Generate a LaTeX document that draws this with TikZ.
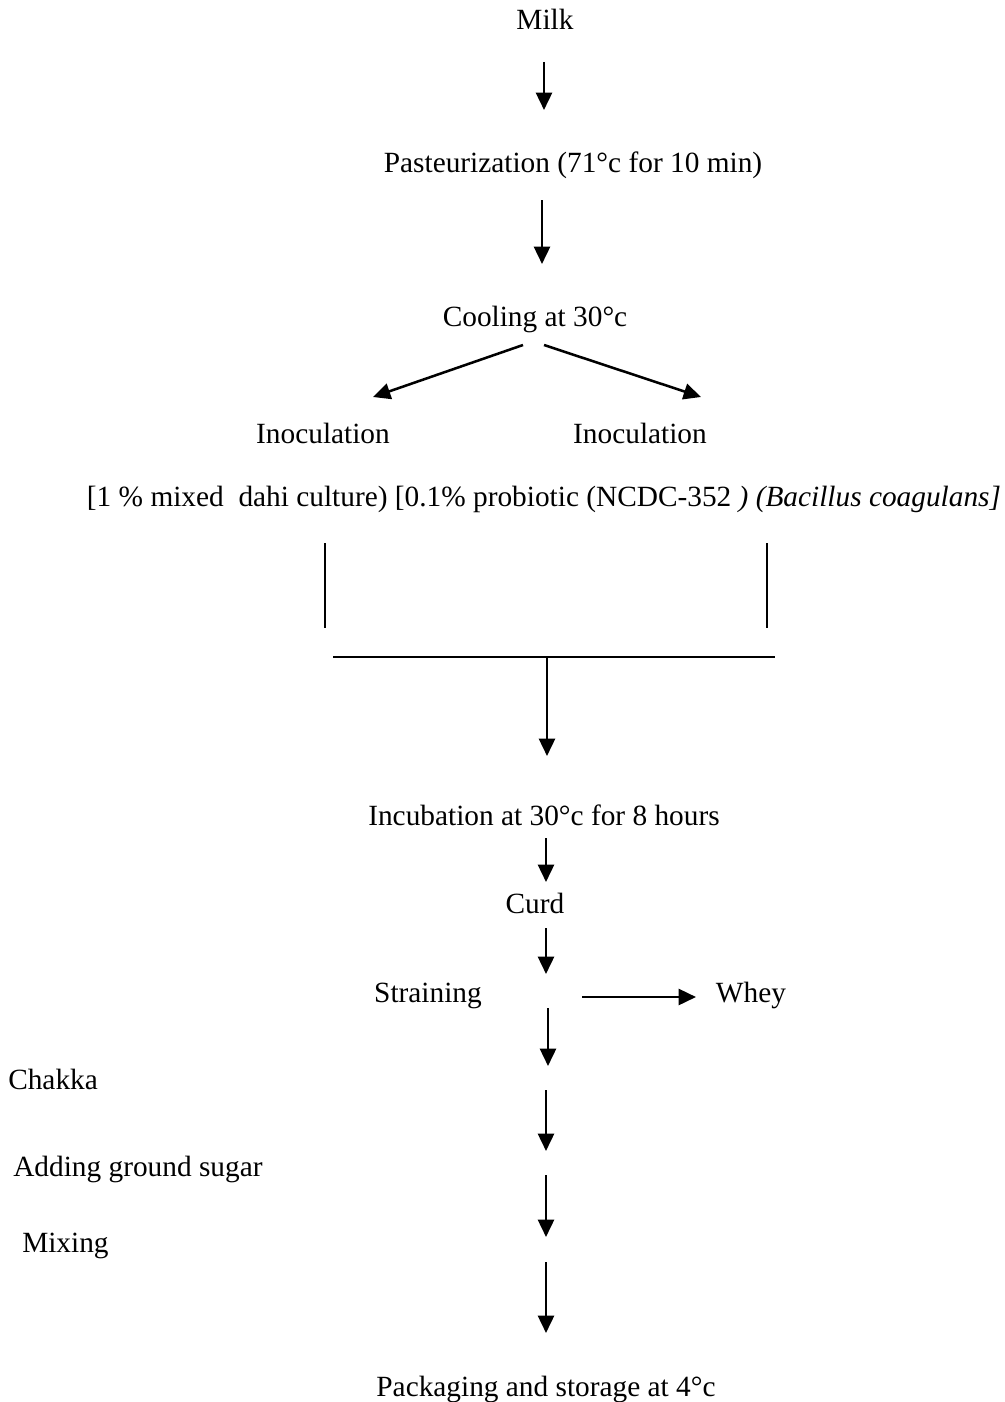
\documentclass[tikz,border=0pt]{standalone}
\usepackage{fontspec}
\setmainfont{Liberation Serif}
\usetikzlibrary{arrows.meta}
\begin{document}
\begin{tikzpicture}[x=0.75pt,y=-0.75pt,
  lbl/.style={inner sep=0pt,anchor=base,font=\fontsize{22}{26}\selectfont},
  lbll/.style={lbl,anchor=base west},
  flow/.style={line width=1.9pt,-{Triangle[width=12pt,length=13pt]}},
  rule/.style={line width=1.9pt}]
\useasboundingbox (0,0) rectangle (1005,1402);
% text nodes
\node[lbl] (milk) at (545,30) {Milk};
\node[lbl] (past) at (573,172) {Pasteurization (71°c for 10 min)};
\node[lbl] (cool) at (535,326) {Cooling at 30°c};
\node[lbl] (inocL) at (323,443) {Inoculation};
\node[lbl] (inocR) at (640,443) {Inoculation};
\node[lbl] (cult) at (544,506) {[1 \% mixed\ \ dahi culture) [0.1\% probiotic (NCDC-352 \textit{) (Bacillus coagulans]}};
\node[lbl] (incu) at (544,825) {Incubation at 30°c for 8 hours};
\node[lbl] (curd) at (535,913) {Curd};
\node[lbl] (strain) at (428,1002) {Straining};
\node[lbl] (whey) at (751,1002) {Whey};
\node[lbll] (chakka) at (8,1089) {Chakka};
\node[lbll] (sugar) at (13,1176) {Adding ground sugar};
\node[lbll] (mix) at (22,1252) {Mixing};
\node[lbl] (pack) at (546,1396) {Packaging and storage at 4°c};
% connector end points
\coordinate (a1s) at (544,62);  \coordinate (a1e) at (544,110);
\coordinate (a2s) at (542,200); \coordinate (a2e) at (542,264);
\coordinate (dLs) at (523,345); \coordinate (dLe) at (373,397);
\coordinate (dRs) at (544,345); \coordinate (dRe) at (701,397);
\coordinate (vLs) at (325,543); \coordinate (vLe) at (325,628);
\coordinate (vRs) at (767,543); \coordinate (vRe) at (767,628);
\coordinate (hL) at (333,657);  \coordinate (hR) at (775,657);
\coordinate (jn) at (547,657);  \coordinate (jne) at (547,756);
\coordinate (a3s) at (546,838); \coordinate (a3e) at (546,882);
\coordinate (a4s) at (546,928); \coordinate (a4e) at (546,974);
\coordinate (wS) at (582,997);  \coordinate (wE) at (696,997);
\coordinate (a5s) at (548,1008); \coordinate (a5e) at (548,1066);
\coordinate (a6s) at (546,1090); \coordinate (a6e) at (546,1151);
\coordinate (a7s) at (546,1175); \coordinate (a7e) at (546,1237);
\coordinate (a8s) at (546,1262); \coordinate (a8e) at (546,1333);
% connectors
\draw[flow] (a1s) -- (a1e);
\draw[flow] (a2s) -- (a2e);
\draw[flow] (dLs) -- (dLe);
\draw[flow] (dRs) -- (dRe);
\draw[rule] (vLs) -- (vLe);
\draw[rule] (vRs) -- (vRe);
\draw[rule] (hL) -- (hR);
\draw[flow] (jn) -- (jne);
\draw[flow] (a3s) -- (a3e);
\draw[flow] (a4s) -- (a4e);
\draw[flow] (wS) -- (wE);
\draw[flow] (a5s) -- (a5e);
\draw[flow] (a6s) -- (a6e);
\draw[flow] (a7s) -- (a7e);
\draw[flow] (a8s) -- (a8e);
\end{tikzpicture}
\end{document}
